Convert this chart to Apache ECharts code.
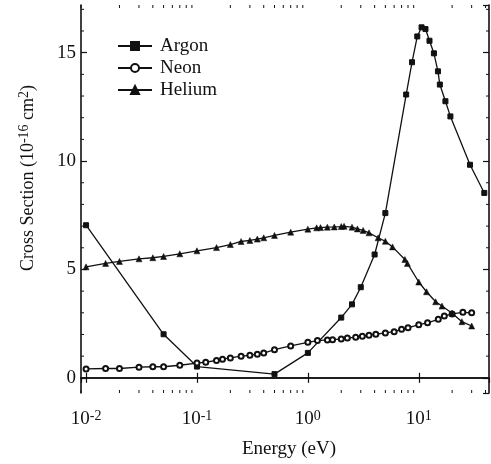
<!DOCTYPE html>
<html>
<head>
<meta charset="utf-8">
<script src="https://cdn.jsdelivr.net/npm/echarts@6/dist/echarts.min.js"></script>
<style>
  html, body { margin: 0; padding: 0; background: #fff; }
  #chart { width: 491px; height: 464px; }
</style>
</head>
<body>
<div id="chart"></div>
<script>
// Electron collision cross sections (10^-16 cm^2) against energy (eV)
const argonEnergy  = [0.01, 0.05, 0.1, 0.5, 1.0, 2.0, 2.5, 3.0, 4.0, 5.0, 7.7, 8.7, 9.7, 10.6, 11.5, 12.5, 13.7, 14.9, 15.5, 17.4, 19.3, 29, 39];
const argonSection = [7.04, 2.01, 0.52, 0.17, 1.15, 2.78, 3.39, 4.18, 5.69, 7.6, 13.07, 14.56, 15.75, 16.17, 16.09, 15.55, 14.97, 14.14, 13.53, 12.76, 12.06, 9.83, 8.53];

const neonEnergy  = [0.01, 0.015, 0.02, 0.03, 0.04, 0.05, 0.07, 0.1, 0.12, 0.15, 0.17, 0.2, 0.25, 0.3, 0.35, 0.4, 0.5, 0.7, 1.0, 1.22, 1.5, 1.67, 2.0, 2.27, 2.7, 3.1, 3.56, 4.1, 5, 6, 7, 8, 10, 12, 15, 17, 20, 25, 30];
const neonSection = [0.41, 0.43, 0.43, 0.49, 0.51, 0.51, 0.58, 0.68, 0.72, 0.80, 0.86, 0.92, 1.0, 1.04, 1.09, 1.14, 1.30, 1.47, 1.64, 1.72, 1.75, 1.76, 1.79, 1.84, 1.87, 1.92, 1.97, 2.01, 2.07, 2.13, 2.24, 2.31, 2.45, 2.54, 2.70, 2.85, 2.95, 3.02, 3.0];

const heliumEnergy  = [0.01, 0.015, 0.02, 0.03, 0.04, 0.05, 0.07, 0.1, 0.15, 0.2, 0.25, 0.3, 0.35, 0.4, 0.5, 0.7, 1.0, 1.2, 1.3, 1.5, 1.73, 2.0, 2.12, 2.5, 2.8, 3.15, 3.56, 4.3, 5, 5.8, 7.5, 7.9, 10, 11.75, 14.2, 16.2, 20, 24.5, 30];
const heliumSection = [5.12, 5.28, 5.37, 5.49, 5.54, 5.60, 5.72, 5.86, 6.01, 6.15, 6.29, 6.34, 6.40, 6.46, 6.57, 6.72, 6.86, 6.92, 6.93, 6.95, 6.96, 6.98, 6.99, 6.95, 6.87, 6.80, 6.69, 6.46, 6.3, 6.04, 5.46, 5.28, 4.42, 3.97, 3.51, 3.31, 2.98, 2.59, 2.39];

const seriesNames = ['Argon', 'Neon', 'Helium'];

// axis ranges
const energyMin = 0.009, energyMax = 43;
const sectionMin = -0.7, sectionMax = 17.2;

const FONT = '"Liberation Serif", "DejaVu Serif", serif';
const INK = '#111';

const pairs = (xs, ys) => xs.map((x, i) => [x, ys[i]]);

// minor tick positions: 2..9 within each decade, and every unit on the value axis
const xMinor = [];
for (let k = -3; k <= 2; k++) {
  for (let m = 2; m <= 9; m++) {
    const v = m * Math.pow(10, k);
    if (v > energyMin && v < energyMax) xMinor.push(v);
  }
}
const yMinor = [];
for (let v = Math.ceil(sectionMin); v < sectionMax; v++) {
  if (v % 5 !== 0) yMinor.push(v);
}

// "10" with a raised exponent
const tickLabelRich = {
  b: { fontFamily: FONT, fontSize: 19, color: INK, lineHeight: 20, verticalAlign: 'bottom' },
  s: { fontFamily: FONT, fontSize: 14, color: INK, lineHeight: 14, padding: [0, 0, 12, 0], verticalAlign: 'top' }
};

const chart = echarts.init(document.getElementById('chart'), null, { renderer: 'canvas' });

const lineStyleCommon = { color: INK, width: 1.3 };

chart.setOption({
  animation: false,
  backgroundColor: '#fff',
  grid: { left: 81, right: 2, top: 5, bottom: 71 },
  legend: {
    data: seriesNames,
    orient: 'vertical',
    left: 112,
    top: 31,
    itemWidth: 34,
    itemHeight: 10,
    itemGap: 2,
    textStyle: { fontFamily: FONT, fontSize: 19, color: INK, lineHeight: 20, padding: [0, 0, 0, 3] }
  },
  xAxis: [
    {
      type: 'log',
      logBase: 10,
      min: energyMin,
      max: energyMax,
      position: 'bottom',
      name: 'Energy (eV)',
      nameLocation: 'middle',
      nameGap: 43,
      nameTextStyle: { fontFamily: FONT, fontSize: 19, color: INK, padding: [0, 0, 0, 8] },
      axisLine: { lineStyle: { color: INK, width: 1.6 } },
      axisTick: { inside: true, length: 5, lineStyle: { color: INK, width: 1.2 } },
      axisLabel: {
        margin: 16,
        showMinLabel: false,
        showMaxLabel: false,
        formatter: v => '{b|10}{s|' + Math.round(Math.log10(v)) + '}',
        rich: tickLabelRich
      },
      splitLine: { show: false }
    },
    {
      type: 'log',
      logBase: 10,
      min: energyMin,
      max: energyMax,
      position: 'top',
      axisLine: { lineStyle: { color: INK, width: 1.6 } },
      axisTick: { inside: true, length: 5, lineStyle: { color: INK, width: 1.2 } },
      axisLabel: { show: false },
      splitLine: { show: false }
    }
  ],
  yAxis: [
    {
      type: 'value',
      min: sectionMin,
      max: sectionMax,
      splitNumber: 4,
      position: 'left',
      name: '{n|Cross Section (10}{s|-16}{n| cm}{s|2}{n|)}',
      nameLocation: 'middle',
      nameGap: 44,
      nameTextStyle: {
        padding: [0, 0, 0, 42],
        rich: {
          n: { fontFamily: FONT, fontSize: 18, color: INK, lineHeight: 20, verticalAlign: 'bottom' },
          s: { fontFamily: FONT, fontSize: 14, color: INK, lineHeight: 14, verticalAlign: 'top' }
        }
      },
      axisLine: { lineStyle: { color: INK, width: 1.6 } },
      axisTick: { inside: true, length: 6, lineStyle: { color: INK, width: 1.2 } },
      axisLabel: {
        margin: 5,
        showMinLabel: false,
        showMaxLabel: false,
        fontFamily: FONT,
        fontSize: 19,
        color: INK
      },
      splitLine: { show: false }
    },
    {
      type: 'value',
      min: sectionMin,
      max: sectionMax,
      splitNumber: 4,
      position: 'right',
      axisLine: { lineStyle: { color: INK, width: 1.6 } },
      axisTick: { inside: true, length: 6, lineStyle: { color: INK, width: 1.2 } },
      axisLabel: { show: false },
      splitLine: { show: false }
    }
  ],
  series: [
    {
      name: 'Argon',
      type: 'line',
      data: pairs(argonEnergy, argonSection),
      symbol: 'rect',
      symbolSize: 5,
      lineStyle: lineStyleCommon,
      itemStyle: { color: INK, borderColor: INK, borderWidth: 1 }
    },
    {
      name: 'Neon',
      type: 'line',
      data: pairs(neonEnergy, neonSection),
      symbol: 'emptyCircle',
      symbolSize: 5,
      lineStyle: lineStyleCommon,
      itemStyle: { color: INK, borderColor: INK, borderWidth: 1.3 }
    },
    {
      name: 'Helium',
      type: 'line',
      data: pairs(heliumEnergy, heliumSection),
      symbol: 'triangle',
      symbolSize: 6,
      lineStyle: lineStyleCommon,
      itemStyle: { color: INK, borderColor: INK, borderWidth: 0.5 }
    },
    {
      // minor ticks on the energy axes (bottom and top)
      type: 'custom',
      silent: true,
      data: xMinor.map(v => [v, sectionMin]),
      encode: { x: 0, y: 1 },
      renderItem: (params, api) => {
        const v = api.value(0);
        const b = api.coord([v, sectionMin]);
        const t = api.coord([v, sectionMax]);
        const st = { stroke: INK, lineWidth: 1 };
        return {
          type: 'group',
          children: [
            { type: 'line', shape: { x1: b[0], y1: b[1], x2: b[0], y2: b[1] - 3 }, style: st },
            { type: 'line', shape: { x1: t[0], y1: t[1], x2: t[0], y2: t[1] + 3 }, style: st }
          ]
        };
      }
    },
    {
      // minor ticks on the cross-section axes (left and right)
      type: 'custom',
      silent: true,
      data: yMinor.map(v => [energyMin, v]),
      encode: { x: 0, y: 1 },
      renderItem: (params, api) => {
        const v = api.value(1);
        const l = api.coord([energyMin, v]);
        const r = api.coord([energyMax, v]);
        const st = { stroke: INK, lineWidth: 1 };
        return {
          type: 'group',
          children: [
            { type: 'line', shape: { x1: l[0], y1: l[1], x2: l[0] + 3, y2: l[1] }, style: st },
            { type: 'line', shape: { x1: r[0], y1: r[1], x2: r[0] - 3, y2: r[1] }, style: st }
          ]
        };
      }
    }
  ]
});
</script>
</body>
</html>
